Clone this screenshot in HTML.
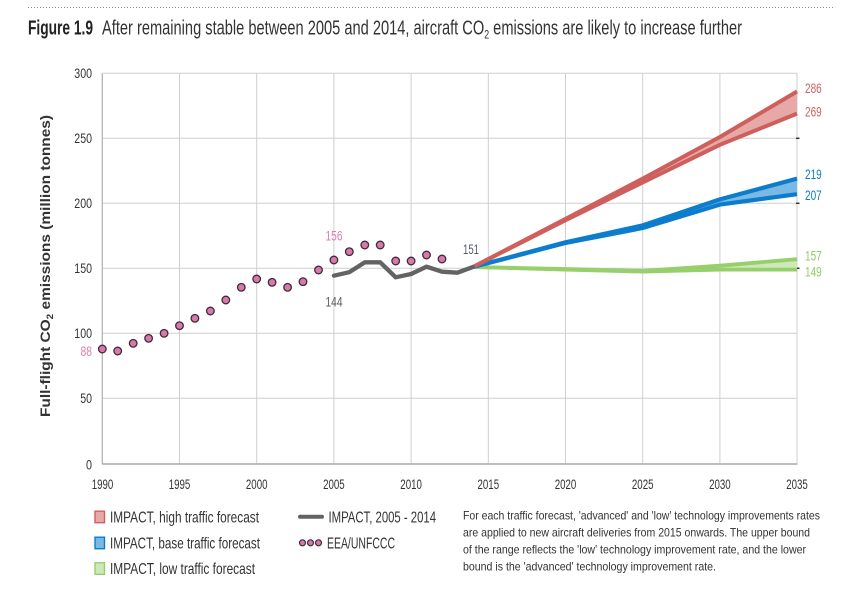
<!DOCTYPE html>
<html>
<head>
<meta charset="utf-8">
<style>
html,body{margin:0;padding:0;background:#fff;}
svg{display:block;}
text{font-family:"Liberation Sans",sans-serif;}
</style>
</head>
<body>
<svg width="856" height="591" viewBox="0 0 856 591" xmlns="http://www.w3.org/2000/svg">
  <!-- dotted top rule -->
  <line x1="28" y1="7.5" x2="833" y2="7.5" stroke="#8a8a8a" stroke-width="1" stroke-dasharray="1,2"/>

  <!-- Title -->
  <text x="28" y="34.5" font-size="20" font-weight="bold" fill="#222" textLength="65" lengthAdjust="spacingAndGlyphs">Figure 1.9</text>
  <text x="102" y="34.5" font-size="20" fill="#333" textLength="640" lengthAdjust="spacingAndGlyphs">After remaining stable between 2005 and 2014, aircraft CO<tspan font-size="12" dy="4">2</tspan><tspan dy="-4"> emissions are likely to increase further</tspan></text>

  <!-- Grid -->
  <g stroke="#cfcfcf" stroke-width="1">
    <line x1="102.3" y1="73.3" x2="797" y2="73.3"/>
    <line x1="102.3" y1="138.3" x2="797" y2="138.3"/>
    <line x1="102.3" y1="203.3" x2="797" y2="203.3"/>
    <line x1="102.3" y1="268.3" x2="797" y2="268.3"/>
    <line x1="102.3" y1="333.3" x2="797" y2="333.3"/>
    <line x1="102.3" y1="398.3" x2="797" y2="398.3"/>
    <line x1="179.5" y1="73.3" x2="179.5" y2="463.3"/>
    <line x1="256.7" y1="73.3" x2="256.7" y2="463.3"/>
    <line x1="333.9" y1="73.3" x2="333.9" y2="463.3"/>
    <line x1="411.1" y1="73.3" x2="411.1" y2="463.3"/>
    <line x1="488.3" y1="73.3" x2="488.3" y2="463.3"/>
    <line x1="565.5" y1="73.3" x2="565.5" y2="463.3"/>
    <line x1="642.7" y1="73.3" x2="642.7" y2="463.3"/>
    <line x1="719.9" y1="73.3" x2="719.9" y2="463.3"/>
    <line x1="797" y1="73.3" x2="797" y2="463.3"/>
  </g>
  <line x1="102.3" y1="73.3" x2="102.3" y2="464" stroke="#b5b5b5" stroke-width="1.3"/>
  <line x1="102" y1="464" x2="797.5" y2="464" stroke="#a8a8a8" stroke-width="1.6"/>
  <!-- right ticks -->
  <g stroke="#333" stroke-width="1.5">
    <line x1="796" y1="138.3" x2="799.5" y2="138.3"/>
    <line x1="796" y1="203.3" x2="799.5" y2="203.3"/>
    <line x1="796" y1="268.3" x2="799.5" y2="268.3"/>
  </g>

  <!-- Y tick labels -->
  <g font-size="13.5" fill="#333" text-anchor="end">
    <text x="92" y="77.8" textLength="17.7" lengthAdjust="spacingAndGlyphs">300</text>
    <text x="92" y="142.8" textLength="17.7" lengthAdjust="spacingAndGlyphs">250</text>
    <text x="92" y="207.8" textLength="17.7" lengthAdjust="spacingAndGlyphs">200</text>
    <text x="92" y="272.8" textLength="17.7" lengthAdjust="spacingAndGlyphs">150</text>
    <text x="92" y="337.8" textLength="17.7" lengthAdjust="spacingAndGlyphs">100</text>
    <text x="92" y="402.8" textLength="11.8" lengthAdjust="spacingAndGlyphs">50</text>
    <text x="92" y="469.5" textLength="6" lengthAdjust="spacingAndGlyphs">0</text>
  </g>

  <!-- X tick labels -->
  <g font-size="13.5" fill="#333" text-anchor="middle">
    <text x="102.5" y="489" textLength="21.6" lengthAdjust="spacingAndGlyphs">1990</text>
    <text x="179.5" y="489" textLength="21.6" lengthAdjust="spacingAndGlyphs">1995</text>
    <text x="256.7" y="489" textLength="21.6" lengthAdjust="spacingAndGlyphs">2000</text>
    <text x="333.9" y="489" textLength="21.6" lengthAdjust="spacingAndGlyphs">2005</text>
    <text x="411.1" y="489" textLength="21.6" lengthAdjust="spacingAndGlyphs">2010</text>
    <text x="488.3" y="489" textLength="21.6" lengthAdjust="spacingAndGlyphs">2015</text>
    <text x="565.5" y="489" textLength="21.6" lengthAdjust="spacingAndGlyphs">2020</text>
    <text x="642.7" y="489" textLength="21.6" lengthAdjust="spacingAndGlyphs">2025</text>
    <text x="719.9" y="489" textLength="21.6" lengthAdjust="spacingAndGlyphs">2030</text>
    <text x="797" y="489" textLength="21.6" lengthAdjust="spacingAndGlyphs">2035</text>
  </g>

  <!-- Y axis title -->
  <text transform="translate(50,266) rotate(-90)" x="0" y="0" text-anchor="middle" font-size="14" font-weight="bold" fill="#333" textLength="302" lengthAdjust="spacingAndGlyphs">Full-flight CO<tspan font-size="9" dy="3">2</tspan><tspan dy="-3"> emissions (million tonnes)</tspan></text>

  <!-- Green -->
  <polygon points="472.9,267.0 565.5,269.0 642.7,270.9 719.9,265.7 797,259.2 797,269.6 719.9,269.6 642.7,271.6 565.5,269.6 472.9,267.0" fill="#cde9b8"/>
  <polyline points="472.9,267.0 565.5,269.0 642.7,270.9 719.9,265.7 797,259.2" fill="none" stroke="#97cf6c" stroke-width="3.8" stroke-linejoin="round"/>
  <polyline points="472.9,267.0 565.5,269.6 642.7,271.6 719.9,269.6 797,269.6" fill="none" stroke="#97cf6c" stroke-width="3.8" stroke-linejoin="round"/>
  <!-- Blue -->
  <polygon points="472.9,267.0 565.5,242.3 642.7,225.4 719.9,199.4 797,178.6 797,194.2 719.9,204.6 642.7,228.0 565.5,243.0" fill="#7ab9e3"/>
  <polyline points="472.9,267.0 565.5,242.3 642.7,225.4 719.9,199.4 797,178.6" fill="none" stroke="#0b7dcc" stroke-width="4.2" stroke-linejoin="round"/>
  <polyline points="472.9,267.0 565.5,243.0 642.7,228.0 719.9,204.6 797,194.2" fill="none" stroke="#0b7dcc" stroke-width="4.2" stroke-linejoin="round"/>
  <!-- Red -->
  <polygon points="472.9,267.0 565.5,218.9 642.7,178.6 719.9,137.0 797,91.5 797,113.6 719.9,144.8 642.7,182.5 565.5,220.2" fill="#e6a9a7"/>
  <polyline points="472.9,267.0 565.5,218.9 642.7,178.6 719.9,137.0 797,91.5" fill="none" stroke="#cf5f5c" stroke-width="4" stroke-linejoin="round"/>
  <polyline points="472.9,267.0 565.5,220.2 642.7,182.5 719.9,144.8 797,113.6" fill="none" stroke="#cf5f5c" stroke-width="4" stroke-linejoin="round"/>

  <!-- IMPACT 2005-2014 grey line -->
  <polyline points="333.9,275.7 349.3,272.2 364.8,262.3 380.2,262.3 395.7,277.3 411.1,274.0 426.5,266.7 442.0,271.7 457.4,272.7 472.9,267.0" fill="none" stroke="#636363" stroke-width="4.3" stroke-linejoin="round" stroke-linecap="round"/>

  <!-- EEA/UNFCCC dots -->
  <g fill="#d978ab" stroke="#3d2c37" stroke-width="1.3">
    <circle cx="102.3" cy="349.0" r="3.8"/>
    <circle cx="117.7" cy="351.0" r="3.8"/>
    <circle cx="133.2" cy="343.3" r="3.8"/>
    <circle cx="148.6" cy="338.3" r="3.8"/>
    <circle cx="164.1" cy="333.3" r="3.8"/>
    <circle cx="179.5" cy="325.7" r="3.8"/>
    <circle cx="194.9" cy="318.3" r="3.8"/>
    <circle cx="210.4" cy="311.0" r="3.8"/>
    <circle cx="225.8" cy="300.0" r="3.8"/>
    <circle cx="241.3" cy="287.3" r="3.8"/>
    <circle cx="256.7" cy="279.0" r="3.8"/>
    <circle cx="272.1" cy="282.3" r="3.8"/>
    <circle cx="287.6" cy="287.3" r="3.8"/>
    <circle cx="303.0" cy="281.7" r="3.8"/>
    <circle cx="318.5" cy="270.0" r="3.8"/>
    <circle cx="333.9" cy="260.0" r="3.8"/>
    <circle cx="349.3" cy="251.7" r="3.8"/>
    <circle cx="364.8" cy="245.0" r="3.8"/>
    <circle cx="380.2" cy="245.0" r="3.8"/>
    <circle cx="395.7" cy="261.0" r="3.8"/>
    <circle cx="411.1" cy="261.0" r="3.8"/>
    <circle cx="426.5" cy="255.0" r="3.8"/>
    <circle cx="442.0" cy="259.0" r="3.8"/>
  </g>

  <!-- Data labels -->
  <g font-size="13.5">
    <text x="92" y="356" text-anchor="end" fill="#e27bb0" textLength="11.5" lengthAdjust="spacingAndGlyphs">88</text>
    <text x="334" y="240.5" text-anchor="middle" fill="#e27bb0" textLength="17" lengthAdjust="spacingAndGlyphs">156</text>
    <text x="334" y="306.5" text-anchor="middle" fill="#5b5b5b" textLength="17" lengthAdjust="spacingAndGlyphs">144</text>
    <text x="471" y="254" text-anchor="middle" fill="#4f5a6c" textLength="16" lengthAdjust="spacingAndGlyphs">151</text>
    <text x="805" y="93" fill="#d0605e" textLength="16.7" lengthAdjust="spacingAndGlyphs">286</text>
    <text x="805" y="116.5" fill="#d0605e" textLength="16.7" lengthAdjust="spacingAndGlyphs">269</text>
    <text x="805" y="178.8" fill="#0b7dcc" textLength="16.7" lengthAdjust="spacingAndGlyphs">219</text>
    <text x="805" y="199.8" fill="#0b7dcc" textLength="16.7" lengthAdjust="spacingAndGlyphs">207</text>
    <text x="805" y="260.5" fill="#8fcd62" textLength="16.7" lengthAdjust="spacingAndGlyphs">157</text>
    <text x="805" y="276.5" fill="#8fcd62" textLength="16.7" lengthAdjust="spacingAndGlyphs">149</text>
  </g>

  <!-- Legend -->
  <rect x="95" y="511.2" width="9.5" height="11.5" fill="#e6a9a7" stroke="#cf5f5c" stroke-width="1.4"/>
  <rect x="95" y="537.2" width="9.5" height="11.5" fill="#7ab9e3" stroke="#0b7dcc" stroke-width="1.4"/>
  <rect x="95" y="562.8" width="9.5" height="11.5" fill="#cde9b8" stroke="#97cf6c" stroke-width="1.4"/>
  <g font-size="16" fill="#333">
    <text x="110" y="522.5" textLength="149" lengthAdjust="spacingAndGlyphs">IMPACT, high traffic forecast</text>
    <text x="110" y="548.5" textLength="150" lengthAdjust="spacingAndGlyphs">IMPACT, base traffic forecast</text>
    <text x="110" y="574" textLength="145" lengthAdjust="spacingAndGlyphs">IMPACT, low traffic forecast</text>
    <text x="328.5" y="522.5" textLength="107.5" lengthAdjust="spacingAndGlyphs">IMPACT, 2005 - 2014</text>
    <text x="327" y="548.5" textLength="68" lengthAdjust="spacingAndGlyphs">EEA/UNFCCC</text>
  </g>
  <line x1="300" y1="516.7" x2="322" y2="516.7" stroke="#636363" stroke-width="4" stroke-linecap="round"/>
  <g fill="#d978ab" stroke="#3d2c37" stroke-width="1.2">
    <circle cx="302.5" cy="542.8" r="3"/>
    <circle cx="310.5" cy="542.8" r="3"/>
    <circle cx="318.5" cy="542.8" r="3"/>
  </g>

  <!-- Note -->
  <g font-size="12" fill="#333">
    <text x="463" y="519.5" textLength="357" lengthAdjust="spacingAndGlyphs">For each traffic forecast, 'advanced' and 'low' technology improvements rates</text>
    <text x="463" y="536.5" textLength="347" lengthAdjust="spacingAndGlyphs">are applied to new aircraft deliveries from 2015 onwards. The upper bound</text>
    <text x="463" y="553.5" textLength="343" lengthAdjust="spacingAndGlyphs">of the range reflects the 'low' technology improvement rate, and the lower</text>
    <text x="463" y="570.5" textLength="253" lengthAdjust="spacingAndGlyphs">bound is the 'advanced' technology improvement rate.</text>
  </g>
</svg>
</body>
</html>
